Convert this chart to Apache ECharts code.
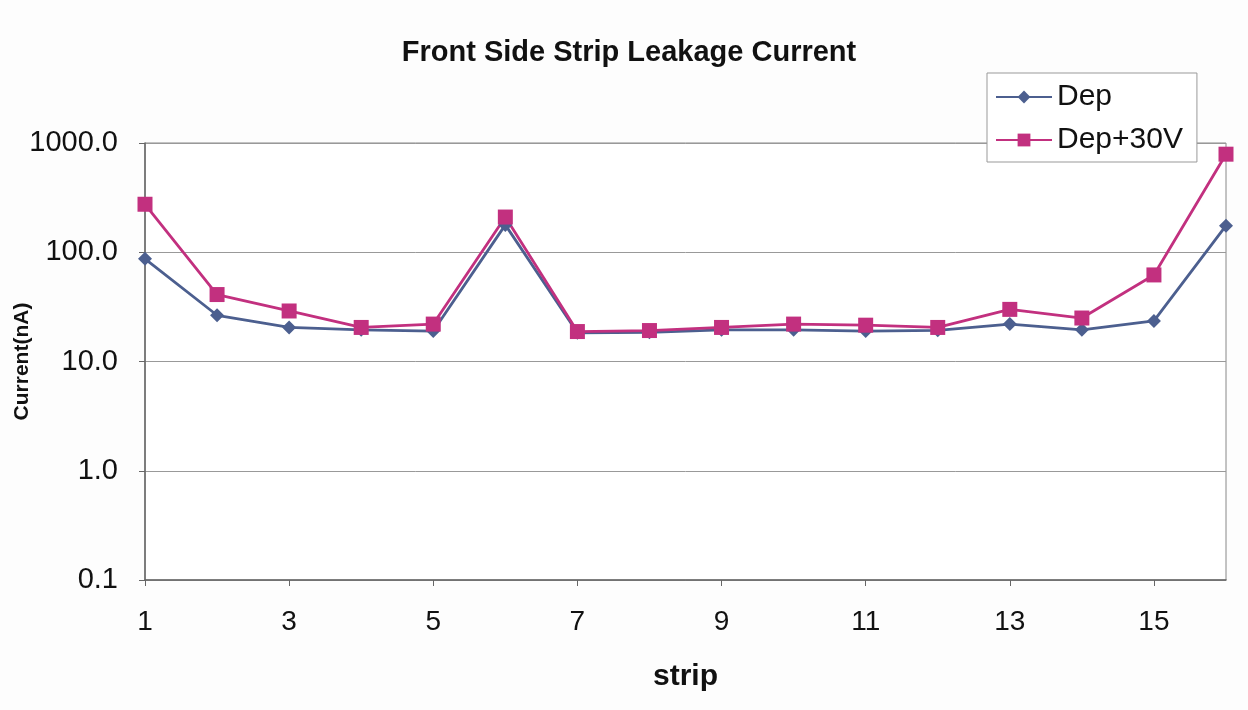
<!DOCTYPE html>
<html>
<head>
<meta charset="utf-8">
<script src="https://cdn.jsdelivr.net/npm/echarts@6/dist/echarts.min.js"></script>
<style>
html,body{margin:0;padding:0;background:#fdfdfd;}
#c{width:1248px;height:710px;}
</style>
</head>
<body>
<div id="c"></div>
<script>
const strips = ['1','2','3','4','5','6','7','8','9','10','11','12','13','14','15','16'];
const dep = [87, 26.5, 20.5, 19.5, 19, 178, 18.3, 18.5, 19.5, 19.5, 19, 19.3, 22, 19.5, 23.5, 175];
const dep30 = [275, 41, 29, 20.5, 22, 210, 18.8, 19.2, 20.5, 22, 21.5, 20.5, 30, 25, 62, 790];
const seriesNames = ['Dep', 'Dep+30V'];

const FONT = 'Liberation Sans, Arial';
const chart = echarts.init(document.getElementById('c'));
chart.setOption({
  backgroundColor: '#fdfdfd',
  animation: false,
  title: {
    text: 'Front Side Strip Leakage Current',
    left: 624, top: 33, textAlign: 'center',
    textStyle: {fontFamily: FONT, fontWeight: 'bold', fontSize: 29, color: '#111'}
  },
  legend: {
    data: seriesNames,
    orient: 'vertical',
    left: 987, top: 73,
    padding: [9, 14, 7, 8],
    itemGap: 13,
    itemWidth: 56, itemHeight: 16,
    backgroundColor: '#ffffff',
    borderColor: '#999',
    borderWidth: 1,
    textStyle: {fontFamily: FONT, fontSize: 30, color: '#111'}
  },
  grid: {
    left: 145, right: 22, top: 143, bottom: 130,
    outerBoundsMode: 'none', containLabel: false,
    show: true, backgroundColor: '#ffffff', borderColor: '#888', borderWidth: 1
  },
  xAxis: {
    type: 'category',
    data: strips,
    boundaryGap: false,
    name: 'strip',
    nameLocation: 'middle',
    nameGap: 82,
    nameMoveOverlap: false,
    nameTextStyle: {fontFamily: FONT, fontWeight: 'bold', fontSize: 30, color: '#111'},
    axisLine: {lineStyle: {color: '#666', width: 1.5}},
    axisTick: {interval: 1, length: 6, lineStyle: {color: '#666'}},
    axisLabel: {interval: 1, margin: 28, fontFamily: FONT, fontSize: 28, color: '#111'},
    splitLine: {show: false}
  },
  yAxis: {
    type: 'log',
    logBase: 10,
    min: 0.1, max: 1000,
    name: 'Current(nA)',
    nameLocation: 'middle',
    nameGap: 112,
    nameMoveOverlap: false,
    nameTextStyle: {fontFamily: FONT, fontWeight: 'bold', fontSize: 21, color: '#111'},
    axisLine: {show: true, lineStyle: {color: '#666', width: 1.5}},
    axisTick: {show: true, length: 6, lineStyle: {color: '#666'}},
    axisLabel: {margin: 27, fontFamily: FONT, fontSize: 29, color: '#111',
      formatter: v => Number(v).toFixed(1)},
    splitLine: {show: true, lineStyle: {color: '#999', width: 1}},
    minorTick: {show: false}, minorSplitLine: {show: false}
  },
  series: [
    {
      name: seriesNames[0], type: 'line', data: dep,
      symbol: 'diamond', symbolSize: 14,
      lineStyle: {color: '#4c5f8f', width: 2.8},
      itemStyle: {color: '#4c5f8f'}
    },
    {
      name: seriesNames[1], type: 'line', data: dep30,
      symbol: 'rect', symbolSize: 15,
      lineStyle: {color: '#c2307f', width: 2.8},
      itemStyle: {color: '#c2307f'}
    }
  ]
});
</script>
</body>
</html>
